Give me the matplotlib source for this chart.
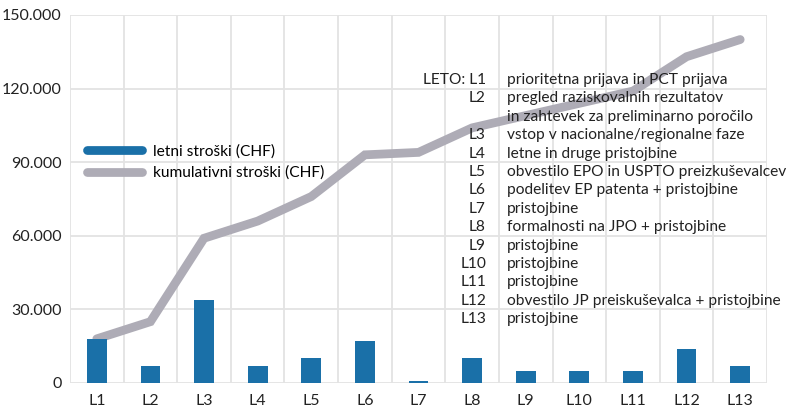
import numpy as np
import matplotlib.pyplot as plt
from matplotlib.lines import Line2D
from matplotlib.ticker import FuncFormatter, FixedLocator

plt.rcParams['font.family'] = ['Lato', 'DejaVu Sans']

# data
leta = ['L1', 'L2', 'L3', 'L4', 'L5', 'L6', 'L7', 'L8', 'L9', 'L10', 'L11', 'L12', 'L13']
letni = np.array([18000, 7000, 34000, 7000, 10000, 17000, 1000, 10000, 5000, 5000, 5000, 14000, 7000])
kumulativni = np.cumsum(letni)

opis_oznake = ['LETO: L1', 'L2', '', 'L3', 'L4', 'L5', 'L6', 'L7', 'L8', 'L9', 'L10', 'L11', 'L12', 'L13']
opis_besedila = ['prioritetna prijava in PCT prijava',
                 'pregled raziskovalnih rezultatov',
                 'in zahtevek za preliminarno poročilo',
                 'vstop v nacionalne/regionalne faze',
                 'letne in druge pristojbine',
                 'obvestilo EPO in USPTO preizkuševalcev',
                 'podelitev EP patenta + pristojbine',
                 'pristojbine',
                 'formalnosti na JPO + pristojbine',
                 'pristojbine',
                 'pristojbine',
                 'pristojbine',
                 'obvestilo JP preiskuševalca + pristojbine',
                 'pristojbine']

modra = '#1a70a8'
siva = '#aeacb6'

fig = plt.figure(figsize=(7.91, 4.08), dpi=100)
ax = fig.add_axes([70 / 791, 25 / 408, 697 / 791, 368 / 408])

x = np.arange(len(leta))
ax.plot(x, kumulativni, color=siva, lw=6.3, solid_capstyle='round',
        solid_joinstyle='miter', zorder=2)
ax.bar(x, letni, width=0.37, color=modra, zorder=3)

ax.set_xlim(-0.5, len(leta) - 0.5)
ax.set_ylim(0, 150000)
ax.set_yticks(np.arange(0, 150001, 30000))
ax.yaxis.set_major_formatter(FuncFormatter(lambda v, p: f'{int(v):,}'.replace(',', '.')))
ax.set_xticks(x)
ax.set_xticklabels(leta)
ax.xaxis.set_minor_locator(FixedLocator(np.arange(-0.5, len(leta), 1)))
ax.grid(True, axis='y', which='major', color='#e3e3e3', lw=1.3, zorder=0)
ax.grid(True, axis='x', which='minor', color='#e3e3e3', lw=1.3, zorder=0)
ax.grid(False, axis='x', which='major')
for s in ax.spines.values():
    s.set_visible(False)
ax.tick_params(axis='both', which='both', length=0, labelsize=11.5, colors='#222222')
ax.tick_params(axis='x', pad=8)
ax.tick_params(axis='y', pad=6)

roc = [Line2D([], [], color=modra, lw=6.3, solid_capstyle='round'),
       Line2D([], [], color=siva, lw=6.3, solid_capstyle='round')]
ax.legend(roc, ['letni stroški (CHF)', 'kumulativni stroški (CHF)'],
          loc='upper left', bbox_to_anchor=(0.016, 0.665),
          frameon=False, fontsize=11.2, handlelength=3.5, handletextpad=0.7,
          labelspacing=0.45, borderaxespad=0)

y0 = 80
for i, (o, b) in enumerate(zip(opis_oznake, opis_besedila)):
    yp = 1 - (y0 + i * 18.4) / 408
    fig.text(486 / 791, yp, o, ha='right', va='center', fontsize=11.2, color='#222222')
    fig.text(507 / 791, yp, b, ha='left', va='center', fontsize=11.2, color='#222222')

fig.savefig('out.png', dpi=100)
